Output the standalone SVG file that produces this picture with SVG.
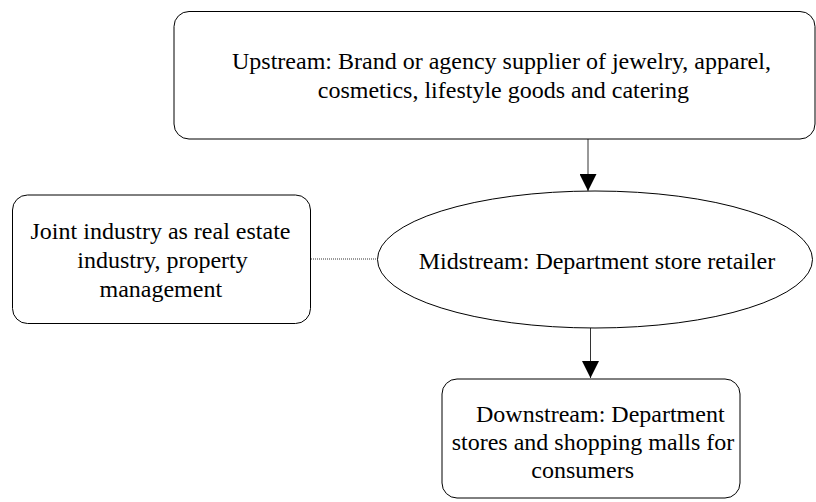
<svg xmlns="http://www.w3.org/2000/svg" width="816" height="502" viewBox="0 0 816 502">
  <style>
    .box { fill: #ffffff; stroke: #000000; stroke-width: 1; }
    .label { font-family: "Liberation Serif", "Times New Roman", serif; font-size: 24px; fill: #000000; text-anchor: middle; }
    .flow { stroke: #333333; stroke-width: 1; fill: none; }
    .link { stroke: #333333; stroke-width: 1; stroke-dasharray: 1 1; fill: none; }
  </style>
  <defs>
    <marker id="arrow" viewBox="0 0 17 17" refX="17" refY="8.5" markerWidth="17" markerHeight="17" markerUnits="userSpaceOnUse" orient="auto">
      <path d="M0,0 L17,8.5 L0,17 z" fill="#000000"/>
    </marker>
  </defs>
  <rect width="816" height="502" fill="#ffffff"/>

  <!-- connectors -->
  <g id="connectors">
    <line class="flow" x1="588" y1="139" x2="588" y2="191" marker-end="url(#arrow)"/>
    <line class="flow" x1="590.5" y1="328" x2="590.5" y2="378" marker-end="url(#arrow)"/>
    <line class="link" x1="311" y1="259" x2="378" y2="259"/>
  </g>

  <!-- upstream suppliers -->
  <g id="upstream">
    <rect class="box" x="174" y="11.5" width="641" height="127.5" rx="15" ry="15"/>
    <text class="label" x="501.5" y="69">Upstream: Brand or agency supplier of jewelry, apparel,</text>
    <text class="label" x="503.4" y="98">cosmetics, lifestyle goods and catering</text>
  </g>

  <!-- midstream retailer -->
  <g id="midstream">
    <ellipse class="box" cx="595" cy="259.5" rx="217.5" ry="68.5"/>
    <text class="label" x="597" y="269">Midstream: Department store retailer</text>
  </g>

  <!-- joint industry -->
  <g id="joint">
    <rect class="box" x="12.5" y="195" width="298" height="128.5" rx="15" ry="15"/>
    <text class="label" x="160.5" y="239">Joint industry as real estate</text>
    <text class="label" x="162.5" y="268">industry, property</text>
    <text class="label" x="160.8" y="297">management</text>
  </g>

  <!-- downstream -->
  <g id="downstream">
    <rect class="box" x="442" y="379" width="298" height="119" rx="15" ry="15"/>
    <text class="label" x="600.3" y="422">Downstream: Department</text>
    <text class="label" x="593" y="450">stores and shopping malls for</text>
    <text class="label" x="582.7" y="478">consumers</text>
  </g>
</svg>
